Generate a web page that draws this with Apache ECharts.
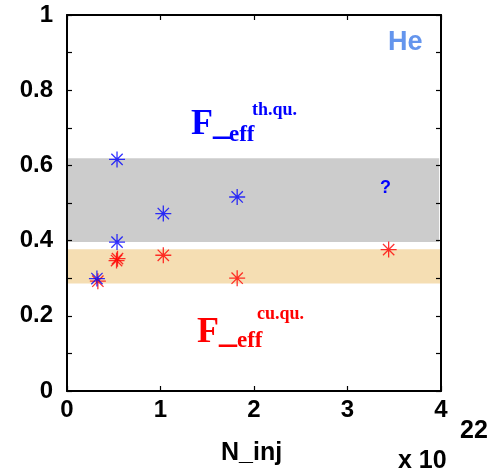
<!DOCTYPE html>
<html>
<head>
<meta charset="utf-8">
<script src="https://cdn.jsdelivr.net/npm/echarts@6/dist/echarts.min.js"></script>
<style>html,body{margin:0;padding:0;background:#fff}#c{width:493px;height:472px}</style>
</head>
<body>
<div id="c"></div>
<script>
// ---- data ----
var thquX = [0.32, 0.535, 0.535, 1.03, 1.82];
var thquY = [0.299, 0.396, 0.616, 0.472, 0.516];
var cuquX = [0.33, 0.53, 0.54, 1.03, 1.82, 3.44];
var cuquY = [0.292, 0.347, 0.352, 0.361, 0.300, 0.376];
var grayBand = [0, 3.98, 0.396, 0.619];     // x0, x1, y0, y1
var orangeBand = [0, 4.04, 0.286, 0.377];
var xTicks = [0, 1, 2, 3, 4];
var yLabelTicks = [0, 0.2, 0.4, 0.6, 0.8, 1];

var chart = echarts.init(document.getElementById('c'), null, {renderer: 'canvas'});
var star = 'path://M5,0L5,10M0,5L10,5M1.46,1.46L8.54,8.54M1.46,8.54L8.54,1.46';
function pts(xs, ys) { return xs.map(function (x, i) { return [x, ys[i]]; }); }
var tickFont = {fontFamily: 'Liberation Sans, Arial, sans-serif', fontWeight: 'bold', fontSize: 24, color: '#000'};
var axLine = {show: true, onZero: false, lineStyle: {color: '#000', width: 2}};
var tick = {show: true, inside: true, length: 5, lineStyle: {color: '#000', width: 1.2}};
function T(x, y, text, font, fill) {
  return {type: 'text', left: x, top: y, z: 100, style: {text: text, font: font, fill: fill}};
}
var serif = '"Liberation Serif", "Times New Roman", serif';
var sans = '"Liberation Sans", Arial, sans-serif';

chart.setOption({
  animation: false,
  grid: {left: 67, right: 52, top: 15, bottom: 81, containLabel: false},
  xAxis: [
    {type: 'value', min: xTicks[0], max: xTicks[xTicks.length - 1], interval: 1, position: 'bottom', z: 10,
     axisLine: axLine, axisTick: tick, splitLine: {show: false},
     axisLabel: Object.assign({margin: 7}, tickFont)},
    {type: 'value', min: xTicks[0], max: xTicks[xTicks.length - 1], interval: 1, position: 'top', z: 10,
     axisLine: axLine, axisTick: tick, splitLine: {show: false}, axisLabel: {show: false}}
  ],
  yAxis: [
    {type: 'value', min: 0, max: 1, interval: 0.1, position: 'left', z: 10,
     axisLine: axLine, axisTick: tick, splitLine: {show: false},
     axisLabel: Object.assign({margin: 14, formatter: function (v) {
       var r = Math.round(v * 10) / 10;
       return yLabelTicks.some(function (t) { return Math.abs(t - r) < 1e-9; }) ? String(r) : '';
     }}, tickFont)},
    {type: 'value', min: 0, max: 1, interval: 0.1, position: 'right', z: 10,
     axisLine: axLine, axisTick: tick, splitLine: {show: false}, axisLabel: {show: false}}
  ],
  series: [
    {type: 'scatter', data: [], clip: false, silent: true,
     markArea: {silent: true, data: [
       [{xAxis: grayBand[0], yAxis: grayBand[2], itemStyle: {color: '#cccccc'}}, {xAxis: grayBand[1], yAxis: grayBand[3]}],
       [{xAxis: orangeBand[0], yAxis: orangeBand[2], itemStyle: {color: '#f5deb3'}}, {xAxis: orangeBand[1], yAxis: orangeBand[3]}]
     ]}},
    {type: 'scatter', name: 'cu.qu.', data: pts(cuquX, cuquY), symbol: star, symbolSize: 16, silent: true,
     itemStyle: {color: 'transparent', borderColor: '#ff0000', borderWidth: 1.3}},
    {type: 'scatter', name: 'th.qu.', data: pts(thquX, thquY), symbol: star, symbolSize: 16, silent: true,
     itemStyle: {color: 'transparent', borderColor: '#0000ff', borderWidth: 1.3}}
  ],
  graphic: [
    T(191, 107, 'F_', 'bold 36px ' + serif, '#0000ff'),
    T(229, 124, 'eff', 'bold 23px ' + serif, '#0000ff'),
    T(252, 101, 'th.qu.', 'bold 18px ' + serif, '#0000ff'),
    T(197, 315, 'F_', 'bold 36px ' + serif, '#ff0000'),
    T(237, 330, 'eff', 'bold 23px ' + serif, '#ff0000'),
    T(257, 305, 'cu.qu.', 'bold 18px ' + serif, '#ff0000'),
    T(388, 29, 'He', 'bold 27px ' + sans, '#6495ed'),
    T(380, 179, '?', 'bold 18px ' + sans, '#0000ff'),
    T(221, 441, 'N_inj', 'bold 25px ' + sans, '#000'),
    T(398, 449, 'x 10', 'bold 25px ' + sans, '#000'),
    T(460, 419, '22', 'bold 25px ' + sans, '#000')
  ]
});
</script>
</body>
</html>
